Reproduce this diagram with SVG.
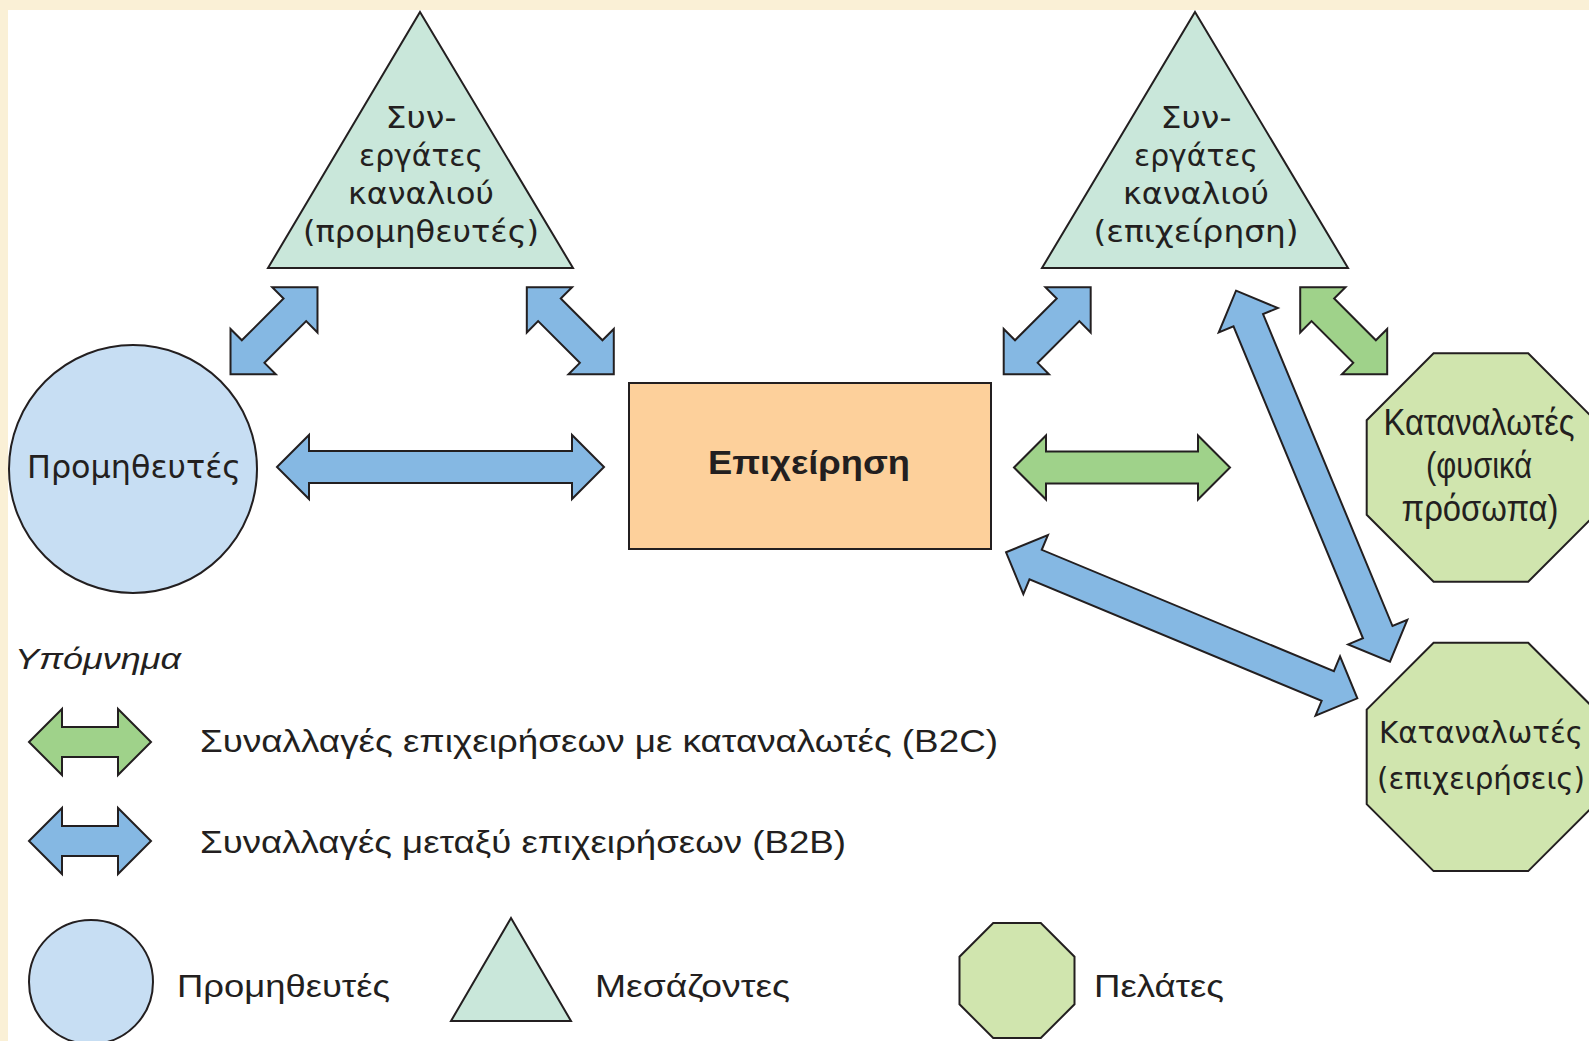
<svg xmlns="http://www.w3.org/2000/svg" width="1589" height="1041" viewBox="0 0 1589 1041">
<style>
.ink{stroke:#231F20;stroke-width:2;stroke-linejoin:miter}
.tri{fill:#C9E7DA}
.cir{fill:#C7DEF3}
.oct{fill:#D0E5AE}
.rect{fill:#FDD09B}
.b2b{fill:#85B8E3;stroke:#231F20;stroke-width:2}
.b2c{fill:#9FD28A;stroke:#231F20;stroke-width:2}
text{fill:#231F20}
.geo{font-family:"DejaVu Sans","Noto Sans",sans-serif}
.hel{font-family:"Liberation Sans",Arial,sans-serif}
</style>
<rect x="0" y="0" width="1589" height="1041" fill="#FAF0D6"/>
<rect x="8" y="10" width="1581" height="1031" fill="#FFFFFF"/>

<g id="connectors">
  <polygon id="a-sup-tri1" class="b2b" transform="translate(274,330.7) rotate(-45)" points="-61.5,0 -29.5,-32 -29.5,-16 29.5,-16 29.5,-32 61.5,0 29.5,32 29.5,16 -29.5,16 -29.5,32"/>
  <polygon id="a-tri1-firm" class="b2b" transform="translate(570.3,330.7) rotate(45)" points="-61.5,0 -29.5,-32 -29.5,-16 29.5,-16 29.5,-32 61.5,0 29.5,32 29.5,16 -29.5,16 -29.5,32"/>
  <polygon id="a-firm-tri2" class="b2b" transform="translate(1047.2,330.7) rotate(-45)" points="-61.5,0 -29.5,-32 -29.5,-16 29.5,-16 29.5,-32 61.5,0 29.5,32 29.5,16 -29.5,16 -29.5,32"/>
  <polygon id="a-tri2-oct1" class="b2c" transform="translate(1343.7,330.7) rotate(45)" points="-61.5,0 -29.5,-32 -29.5,-16 29.5,-16 29.5,-32 61.5,0 29.5,32 29.5,16 -29.5,16 -29.5,32"/>
  <polygon id="a-sup-firm" class="b2b" transform="translate(440.5,467)" points="-163.5,0 -131.5,-32 -131.5,-16 131.5,-16 131.5,-32 163.5,0 131.5,32 131.5,16 -131.5,16 -131.5,32"/>
  <polygon id="a-firm-oct1" class="b2c" transform="translate(1122,467.5)" points="-108,0 -76,-32 -76,-16 76,-16 76,-32 108,0 76,32 76,16 -76,16 -76,32"/>
  <polygon id="a-tri2-oct2" class="b2b" transform="translate(1313,476.2) rotate(67.46)" points="-200.85,0 -168.85,-32 -168.85,-16 168.85,-16 168.85,-32 200.85,0 168.85,32 168.85,16 -168.85,16 -168.85,32"/>
  <polygon id="a-firm-oct2" class="b2b" transform="translate(1181.7,625.3) rotate(22.57)" points="-190.2,0 -158.2,-32 -158.2,-16 158.2,-16 158.2,-32 190.2,0 158.2,32 158.2,16 -158.2,16 -158.2,32"/>
</g>

<g id="channel-suppliers">
  <polygon class="tri ink" points="420,12 573,268 268,268"/>
  <g class="geo" font-size="31" text-anchor="middle">
    <text x="421" y="128" textLength="71" lengthAdjust="spacingAndGlyphs">Συν-</text>
    <text x="421" y="166" textLength="124" lengthAdjust="spacingAndGlyphs">εργάτες</text>
    <text x="421" y="204" textLength="146" lengthAdjust="spacingAndGlyphs">καναλιού</text>
    <text x="421" y="242" textLength="236" lengthAdjust="spacingAndGlyphs">(προμηθευτές)</text>
  </g>
</g>

<g id="channel-firm">
  <polygon class="tri ink" points="1195,12 1348,268 1042,268"/>
  <g class="geo" font-size="31" text-anchor="middle">
    <text x="1196" y="128" textLength="71" lengthAdjust="spacingAndGlyphs">Συν-</text>
    <text x="1196" y="166" textLength="124" lengthAdjust="spacingAndGlyphs">εργάτες</text>
    <text x="1196" y="204" textLength="146" lengthAdjust="spacingAndGlyphs">καναλιού</text>
    <text x="1196" y="242" textLength="205" lengthAdjust="spacingAndGlyphs">(επιχείρηση)</text>
  </g>
</g>

<g id="suppliers">
  <circle class="cir ink" cx="133" cy="469" r="124"/>
  <text class="geo" x="134" y="478" font-size="32" text-anchor="middle" textLength="214" lengthAdjust="spacingAndGlyphs">Προμηθευτές</text>
</g>

<g id="firm">
  <rect class="rect ink" x="629" y="383" width="362" height="166"/>
  <text class="hel" x="809" y="474" font-size="34" font-weight="bold" text-anchor="middle" textLength="202" lengthAdjust="spacingAndGlyphs">Επιχείρηση</text>
</g>

<g id="consumers-persons">
  <polygon class="oct ink" points="1433.6,353.3 1528.2,353.3 1595.1,420.2 1595.1,514.8 1528.2,581.7 1433.6,581.7 1366.7,514.8 1366.7,420.2"/>
  <g class="hel" font-size="36" text-anchor="middle">
    <text x="1479" y="435" textLength="191" lengthAdjust="spacingAndGlyphs">Καταναλωτές</text>
    <text x="1479" y="478" textLength="106" lengthAdjust="spacingAndGlyphs">(φυσικά</text>
    <text x="1480" y="521" textLength="157" lengthAdjust="spacingAndGlyphs">πρόσωπα)</text>
  </g>
</g>

<g id="consumers-business">
  <polygon class="oct ink" points="1433.6,642.7 1528.2,642.7 1595.1,709.6 1595.1,804.2 1528.2,871.1 1433.6,871.1 1366.7,804.2 1366.7,709.6"/>
  <g class="geo" font-size="31" text-anchor="middle">
    <text x="1481" y="743" textLength="204" lengthAdjust="spacingAndGlyphs">Καταναλωτές</text>
    <text x="1481" y="789" textLength="208" lengthAdjust="spacingAndGlyphs">(επιχειρήσεις)</text>
  </g>
</g>

<g id="legend">
  <text class="hel" x="15" y="669" font-size="30" font-style="italic" textLength="166" lengthAdjust="spacingAndGlyphs">Υπόμνημα</text>
  <polygon class="b2c" transform="translate(90,742)" points="-61,0 -28,-33 -28,-15 28,-15 28,-33 61,0 28,33 28,15 -28,15 -28,33"/>
  <text class="hel" x="200" y="752" font-size="32" textLength="798" lengthAdjust="spacingAndGlyphs">Συναλλαγές επιχειρήσεων με καταναλωτές (B2C)</text>
  <polygon class="b2b" transform="translate(90,841)" points="-61,0 -28,-33 -28,-15 28,-15 28,-33 61,0 28,33 28,15 -28,15 -28,33"/>
  <text class="hel" x="200" y="853" font-size="32" textLength="646" lengthAdjust="spacingAndGlyphs">Συναλλαγές μεταξύ επιχειρήσεων (B2B)</text>
  <circle class="cir ink" cx="91" cy="982" r="62"/>
  <text class="hel" x="177" y="997" font-size="32" textLength="213" lengthAdjust="spacingAndGlyphs">Προμηθευτές</text>
  <polygon class="tri ink" points="511,918 571,1021 451,1021"/>
  <text class="hel" x="595" y="997" font-size="32" textLength="195" lengthAdjust="spacingAndGlyphs">Μεσάζοντες</text>
  <polygon class="oct ink" points="993.2,923 1040.8,923 1074.5,956.7 1074.5,1004.3 1040.8,1038 993.2,1038 959.5,1004.3 959.5,956.7"/>
  <text class="hel" x="1094" y="997" font-size="32" textLength="130" lengthAdjust="spacingAndGlyphs">Πελάτες</text>
</g>
</svg>
